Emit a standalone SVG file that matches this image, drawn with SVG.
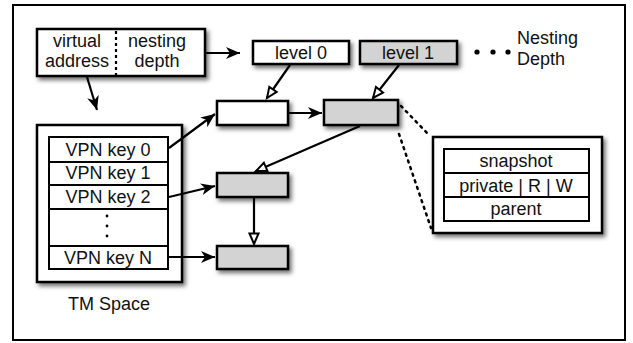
<svg xmlns="http://www.w3.org/2000/svg" width="633" height="343" viewBox="0 0 633 343">
<defs>
<filter id="sh" x="-20%" y="-20%" width="150%" height="160%">
<feDropShadow dx="2.5" dy="3" stdDeviation="2" flood-color="#000" flood-opacity="0.55"/>
</filter>
<marker id="fa" markerUnits="userSpaceOnUse" markerWidth="16" markerHeight="14" refX="14" refY="6" orient="auto">
<path d="M0,0 L14,6 L0,12 L4,6 Z" fill="#000"/>
</marker>
<marker id="oa" markerUnits="userSpaceOnUse" markerWidth="16" markerHeight="14" refX="12" refY="6" orient="auto">
<path d="M1.5,1.5 L12,6 L1.5,10.5 Z" fill="#fff" stroke="#000" stroke-width="2" stroke-linejoin="miter"/>
</marker>
</defs>
<style>
.box{stroke:#000;stroke-width:2.5;filter:url(#sh)}
.w{fill:#fff}
.g{fill:#d3d3d3}
.cell{fill:#fff;stroke:#000;stroke-width:2}
.t{font-family:"Liberation Sans",Arial,sans-serif;font-size:18px;fill:#111;text-anchor:middle}
.tl{font-family:"Liberation Sans",Arial,sans-serif;font-size:18px;fill:#111}
.c{stroke:#000;stroke-width:2.2;fill:none}
.d{stroke:#000;stroke-width:2.5;fill:none;stroke-dasharray:2 5;stroke-linecap:round}
</style>
<rect x="13" y="5" width="612" height="335" fill="#fff" stroke="#000" stroke-width="2"/>

<g id="addr">
<rect class="box w" x="37" y="29" width="168" height="47"/>
<line x1="116" y1="31" x2="116" y2="75" stroke="#000" stroke-width="2.2" stroke-dasharray="3 3"/>
<text class="t" x="77" y="47">virtual</text>
<text class="t" x="77" y="67">address</text>
<text class="t" x="157" y="47">nesting</text>
<text class="t" x="157" y="67">depth</text>
</g>

<g id="level0">
<rect class="box w" x="253" y="41" width="96" height="23"/>
<text class="t" x="301" y="59">level 0</text>
</g>
<g id="level1">
<rect class="box g" x="360" y="41" width="97" height="23"/>
<text class="t" x="408" y="59">level 1</text>
</g>

<g id="nestdepth">
<circle cx="477" cy="52" r="2.6" fill="#000"/>
<circle cx="493" cy="52" r="2.6" fill="#000"/>
<circle cx="508" cy="52" r="2.6" fill="#000"/>
<text class="tl" x="517" y="44">Nesting</text>
<text class="tl" x="517" y="65">Depth</text>
</g>

<g id="nodeW">
<rect class="box w" x="217" y="101" width="71" height="24"/>
</g>
<g id="nodeG1">
<rect class="box g" x="324" y="100" width="74" height="25"/>
</g>
<g id="nodeG2">
<rect class="box g" x="217" y="173" width="71" height="24"/>
</g>
<g id="nodeG3">
<rect class="box g" x="217" y="246" width="71" height="23"/>
</g>

<g id="tmspace">
<rect class="box w" x="37" y="125" width="145" height="157"/>
<rect class="cell" x="49" y="137" width="119" height="25"/>
<rect class="cell" x="49" y="162" width="119" height="23"/>
<rect class="cell" x="49" y="185" width="119" height="24"/>
<rect class="cell" x="49" y="209" width="119" height="37"/>
<rect class="cell" x="49" y="246" width="119" height="23"/>
<text class="t" x="108" y="156">VPN key 0</text>
<text class="t" x="108" y="179">VPN key 1</text>
<text class="t" x="108" y="203">VPN key 2</text>
<circle cx="107" cy="216" r="1.4" fill="#000"/>
<circle cx="107" cy="226" r="1.4" fill="#000"/>
<circle cx="107" cy="236" r="1.4" fill="#000"/>
<text class="t" x="108" y="264">VPN key N</text>
<text class="t" x="109" y="310">TM Space</text>
</g>

<g id="detail">
<rect class="box w" x="433" y="137" width="169" height="96"/>
<rect class="cell" x="444" y="149" width="145" height="24"/>
<rect class="cell" x="444" y="173" width="145" height="24"/>
<rect class="cell" x="444" y="197" width="145" height="24"/>
<text class="t" x="516" y="167">snapshot</text>
<text class="t" x="516" y="192">private | R | W</text>
<text class="t" x="516" y="215">parent</text>
</g>

<g id="connectors">
<line class="c" x1="205" y1="53" x2="240" y2="53" marker-end="url(#fa)"/>
<line class="c" x1="87" y1="77" x2="97" y2="110" marker-end="url(#fa)"/>
<line class="c" x1="290" y1="65" x2="267" y2="98" marker-end="url(#oa)"/>
<line class="c" x1="399" y1="65" x2="373" y2="98" marker-end="url(#oa)"/>
<line class="c" x1="288" y1="113" x2="322" y2="113" marker-end="url(#fa)"/>
<line class="c" x1="169" y1="148" x2="215" y2="114" marker-end="url(#fa)"/>
<line class="c" x1="360" y1="126" x2="256" y2="171" marker-end="url(#oa)"/>
<line class="c" x1="169" y1="197" x2="215" y2="186" marker-end="url(#fa)"/>
<line class="c" x1="254" y1="197" x2="254" y2="244" marker-end="url(#oa)"/>
<line class="c" x1="169" y1="257" x2="215" y2="257" marker-end="url(#fa)"/>
<line class="d" x1="401" y1="106" x2="430" y2="136"/>
<line class="d" x1="399" y1="134" x2="431" y2="228"/>
</g>
</svg>
